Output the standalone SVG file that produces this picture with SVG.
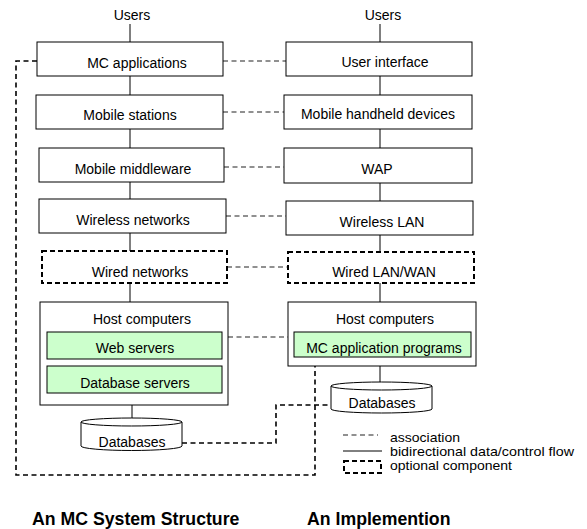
<svg xmlns="http://www.w3.org/2000/svg" width="587" height="529" viewBox="0 0 587 529">
<style>
text{font-family:"Liberation Sans",Arial,sans-serif;font-size:14px;fill:#000;text-anchor:middle}
.t{font-weight:bold;font-size:17.7px;text-anchor:start}
.lg{text-anchor:start;font-size:12.4px}
.box{fill:#fff;stroke:#000;stroke-width:1}
.opt{fill:#fff;stroke:#000;stroke-width:2;stroke-dasharray:5,3}
.grn{fill:#ccffcc;stroke:#000;stroke-width:1}
.flow{stroke:#000;stroke-width:1;fill:none}
.assoc{stroke:#222;stroke-width:1.2;fill:none;stroke-dasharray:5,3.5}
.loop{stroke:#000;stroke-width:1.6;fill:none;stroke-dasharray:5,3.5}
.cyl{fill:#fff;stroke:#000;stroke-width:1}
</style>
<rect width="587" height="529" fill="#fff"/>
<g id="connectors">
<line class="flow" x1="130" y1="24" x2="130" y2="42"/>
<line class="flow" x1="130" y1="76" x2="130" y2="95"/>
<line class="flow" x1="130" y1="129" x2="130" y2="148"/>
<line class="flow" x1="130" y1="182" x2="130" y2="199"/>
<line class="flow" x1="130" y1="233" x2="130" y2="251"/>
<line class="flow" x1="130" y1="283" x2="130" y2="302"/>
<line class="flow" x1="132" y1="393" x2="132" y2="423"/>
<line class="flow" x1="380" y1="24" x2="380" y2="42"/>
<line class="flow" x1="380" y1="76" x2="380" y2="95"/>
<line class="flow" x1="380" y1="129" x2="380" y2="148"/>
<line class="flow" x1="380" y1="183" x2="380" y2="201"/>
<line class="flow" x1="380" y1="235" x2="380" y2="252"/>
<line class="flow" x1="380" y1="283" x2="380" y2="302"/>
<line class="flow" x1="380" y1="357" x2="380" y2="386"/>
<line class="assoc" x1="223" y1="61" x2="286" y2="61"/>
<line class="assoc" x1="223" y1="112" x2="284" y2="112"/>
<line class="assoc" x1="224" y1="167" x2="284" y2="167"/>
<line class="assoc" x1="226" y1="216" x2="286" y2="216"/>
<line class="assoc" x1="227" y1="267" x2="288" y2="267"/>
<line class="assoc" x1="228" y1="337" x2="288" y2="337"/>
<polyline class="loop" points="37,61 16,61 16,475 315,475 315,357"/>
<polyline class="loop" points="182,443 276,443 276,405 331,405"/>
</g>
<g id="users-left"><text x="132" y="20">Users</text></g>
<g id="users-right"><text x="383" y="20">Users</text></g>
<g id="mc-applications"><rect class="box" x="37" y="42" width="186" height="34"/><text x="137" y="68">MC applications</text></g>
<g id="mobile-stations"><rect class="box" x="36" y="95" width="187" height="34"/><text x="130" y="120">Mobile stations</text></g>
<g id="mobile-middleware"><rect class="box" x="39" y="148" width="185" height="34"/><text x="133" y="174">Mobile middleware</text></g>
<g id="wireless-networks"><rect class="box" x="39" y="199" width="187" height="34"/><text x="133" y="225">Wireless networks</text></g>
<g id="wired-networks"><rect class="opt" x="42" y="251" width="185" height="32"/><text x="140" y="277">Wired networks</text></g>
<g id="host-left"><rect class="box" x="40" y="302" width="188" height="103"/><text x="142" y="324">Host computers</text>
<rect class="grn" x="47" y="332" width="175" height="27"/><text x="135" y="353">Web servers</text>
<rect class="grn" x="47" y="366" width="175" height="27"/><text x="135" y="388">Database servers</text></g>
<g id="databases-left"><path class="cyl" d="M81,422 A50.5,4 0 0 1 182,422 L182,446 A50.5,4.5 0 0 1 81,446 Z"/><path class="cyl" d="M81,422 A50.5,4 0 0 0 182,422" fill="none"/><text x="132" y="447">Databases</text></g>
<g id="user-interface"><rect class="box" x="286" y="42" width="186" height="34"/><text x="385" y="67">User  interface</text></g>
<g id="handheld"><rect class="box" x="284" y="95" width="188" height="34"/><text x="378" y="119">Mobile handheld devices</text></g>
<g id="wap"><rect class="box" x="284" y="148" width="188" height="35"/><text x="377" y="174">WAP</text></g>
<g id="wireless-lan"><rect class="box" x="286" y="201" width="187" height="34"/><text x="382" y="227">Wireless LAN</text></g>
<g id="wired-lan"><rect class="opt" x="288" y="252" width="186" height="31"/><text x="384" y="277">Wired LAN/WAN</text></g>
<g id="host-right"><rect class="box" x="288" y="302" width="188" height="64"/><text x="385" y="324">Host computers</text>
<rect class="grn" x="294" y="332" width="177" height="25"/><text x="384" y="353">MC application programs</text></g>
<g id="databases-right"><path class="cyl" d="M331,386 A50.5,4 0 0 1 432,386 L432,409 A50.5,4 0 0 1 331,409 Z"/><path class="cyl" d="M331,386 A50.5,4 0 0 0 432,386" fill="none"/><text x="382" y="408">Databases</text></g>
<g id="legend">
<line class="assoc" x1="343" y1="435" x2="378" y2="435"/>
<line class="flow" x1="343" y1="451" x2="382" y2="451"/>
<rect class="opt" x="344" y="461" width="37" height="12" stroke-width="1.5"/>
<text class="lg" x="390" y="442" textLength="70" lengthAdjust="spacingAndGlyphs">association</text>
<text class="lg" x="390" y="456" textLength="184" lengthAdjust="spacingAndGlyphs">bidirectional data/control flow</text>
<text class="lg" x="390" y="470" textLength="122" lengthAdjust="spacingAndGlyphs">optional component</text>
</g>
<g id="titles">
<text class="t" x="32" y="525">An MC System Structure</text>
<text class="t" x="307" y="525">An Implemention</text>
</g>
</svg>
